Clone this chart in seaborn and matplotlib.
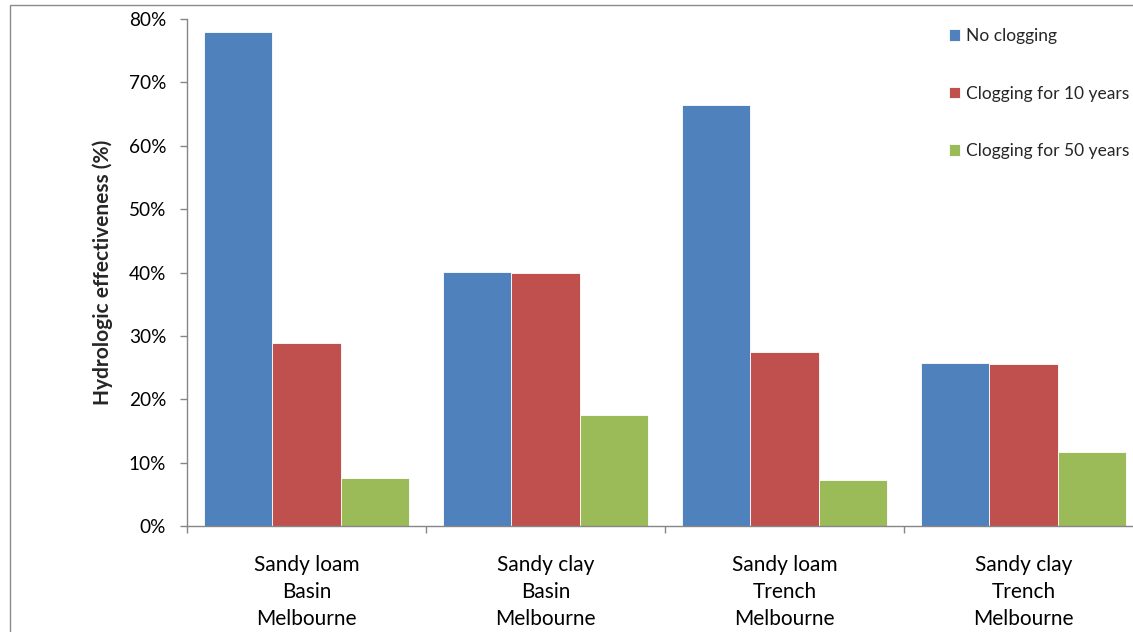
import matplotlib
matplotlib.use("Agg")
import matplotlib.pyplot as plt
from matplotlib.patches import Rectangle
from matplotlib.ticker import FuncFormatter, FixedLocator
import seaborn as sns
import pandas as pd

# Hydrologic effectiveness (%) per soil / device configuration
categories = ["Sandy loam\nBasin\nMelbourne",
              "Sandy clay\nBasin\nMelbourne",
              "Sandy loam\nTrench\nMelbourne",
              "Sandy clay\nTrench\nMelbourne"]
scenarios = ["No clogging", "Clogging for 10 years", "Clogging for 50 years"]
no_clogging = [78.0, 40.1, 66.4, 25.7]
clogging_10y = [28.9, 39.9, 27.4, 25.6]
clogging_50y = [7.6, 17.5, 7.3, 11.7]
colors = ["#4F81BD", "#C0504D", "#9BBB59"]

df = pd.DataFrame({
    "category": categories * 3,
    "scenario": [s for s in scenarios for _ in categories],
    "value": no_clogging + clogging_10y + clogging_50y,
})

sns.set_theme(style="white")
plt.rcParams["font.family"] = ["Lato", "DejaVu Sans"]

W, H = 1133, 632
fig = plt.figure(figsize=(W / 100, H / 100), dpi=100)
# plot area: x from 187px to 1143px, y from 19px to 526px
ax = fig.add_axes([187 / W, 1 - 526 / H, 956 / W, 507 / H])

sns.barplot(data=df, x="category", y="value", hue="scenario",
            order=categories, hue_order=scenarios, palette=colors,
            width=0.86, gap=0, edgecolor="white", linewidth=0.6,
            saturation=1, ax=ax)

axis_gray = "#868686"
ax.set_ylim(0, 80)
ax.set_xlim(-0.5, 3.5)
ax.set_yticks(range(0, 81, 10))
ax.yaxis.set_major_formatter(FuncFormatter(lambda v, _: f"{v:.0f}%"))

for side in ("top", "right"):
    ax.spines[side].set_visible(False)
for side in ("left", "bottom"):
    ax.spines[side].set_color(axis_gray)
    ax.spines[side].set_linewidth(1.0)

ax.tick_params(axis="y", which="major", direction="out", length=5,
               width=1.0, color=axis_gray, pad=10, labelsize=13.7,
               labelcolor="black", left=True)
ax.xaxis.set_minor_locator(FixedLocator([-0.5, 0.5, 1.5, 2.5, 3.5]))
ax.tick_params(axis="x", which="minor", direction="out", length=5,
               width=1.0, color=axis_gray, bottom=True)
ax.tick_params(axis="x", which="major", length=0, pad=21,
               labelsize=15, labelcolor="black")
for lbl in ax.get_xticklabels():
    lbl.set_linespacing(1.42)

ax.set_xlabel("")
ax.set_ylabel("Hydrologic effectiveness (%)", fontsize=15,
              fontweight="bold", ha="center", va="center")
ax.yaxis.set_label_coords((103 - 187) / 956, 0.5)

handles, labels = ax.get_legend_handles_labels()
ax.legend(handles, labels, loc="upper left",
          bbox_to_anchor=(949 / W, 1 - 28 / H),
          bbox_transform=fig.transFigure, frameon=False,
          fontsize=12.5, handlelength=0.65, handleheight=0.65,
          handletextpad=0.35, labelspacing=2.4, borderpad=0,
          borderaxespad=0)

# outer chart frame
fig.add_artist(Rectangle((10.5 / W, -0.2), 1.5, 1.2 - 4.5 / H,
                         transform=fig.transFigure, fill=False,
                         edgecolor="#8a8a8a", linewidth=1.0,
                         clip_on=False))

fig.savefig("out.png", dpi=100, facecolor="white")
